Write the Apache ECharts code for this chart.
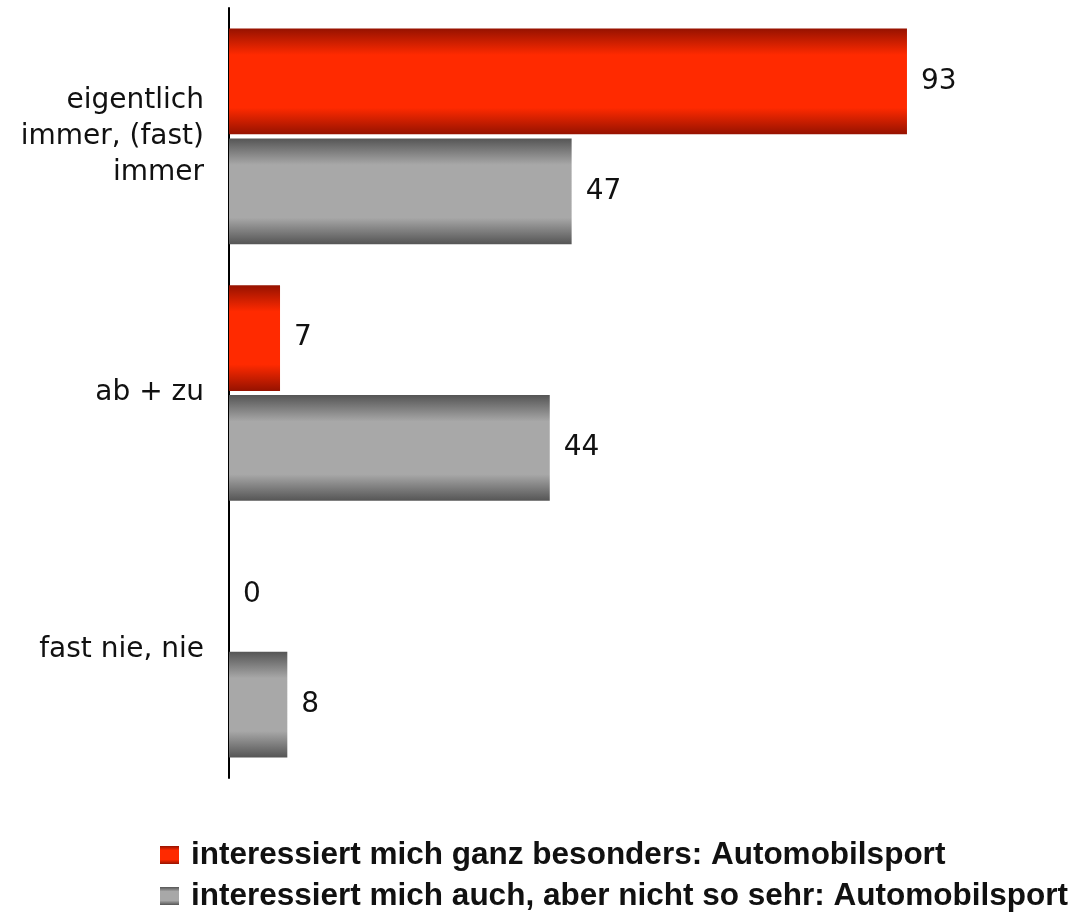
<!DOCTYPE html>
<html><head><meta charset="utf-8">
<script src="https://cdn.jsdelivr.net/npm/echarts@6/dist/echarts.min.js"></script>
<style>html,body{margin:0;padding:0;background:#fff}#c{width:1077px;height:914px}</style>
</head><body><div id="c"></div>
<script>
const categories = ['eigentlich\nimmer, (fast)\nimmer', 'ab + zu', 'fast nie, nie'];
const seriesNames = ['interessiert mich ganz besonders: Automobilsport', 'interessiert mich auch, aber nicht so sehr: Automobilsport'];
const valuesRed = [93, 7, 0];
const valuesGray = [47, 44, 8];

function grad(edge, mid) {
  return new echarts.graphic.LinearGradient(0, 0, 0, 1, [
    {offset: 0, color: edge}, {offset: 0.25, color: mid}, {offset: 0.5, color: mid}, {offset: 0.75, color: mid}, {offset: 1, color: edge}
  ]);
}
const chart = echarts.init(document.getElementById('c'));
const labelStyle = {show: true, position: 'right', distance: 14, fontSize: 28, color: '#111', fontFamily: 'DejaVu Sans'};
const legendBase = {
  orient: 'horizontal', left: 155, itemWidth: 19, itemHeight: 18, icon: 'rect',
  textStyle: {fontSize: 31.5, fontWeight: 'bold', color: '#111', fontFamily: 'Liberation Sans', padding: [0, 0, 0, 7]}
};
chart.setOption({
  animation: false,
  grid: {left: 229, top: 8, width: 729, height: 770},
  xAxis: {type: 'value', min: 0, max: 100, show: false},
  yAxis: {
    type: 'category', data: categories, inverse: true,
    axisLine: {show: true, lineStyle: {color: '#000', width: 2}},
    axisTick: {show: false},
    axisLabel: {fontSize: 28, lineHeight: 36, color: '#111', margin: 25, fontFamily: 'DejaVu Sans', align: 'right'}
  },
  legend: [
    Object.assign({}, legendBase, {top: 834, data: [seriesNames[0]]}),
    Object.assign({}, legendBase, {top: 875, data: [seriesNames[1]]})
  ],
  series: [
    {name: seriesNames[0], type: 'bar', data: valuesRed, barGap: '4%', barCategoryGap: '16%',
     itemStyle: {color: grad('#961200', '#ff2a00')}, label: labelStyle},
    {name: seriesNames[1], type: 'bar', data: valuesGray,
     itemStyle: {color: grad('#555555', '#a8a8a8')}, label: labelStyle}
  ]
});
</script></body></html>
